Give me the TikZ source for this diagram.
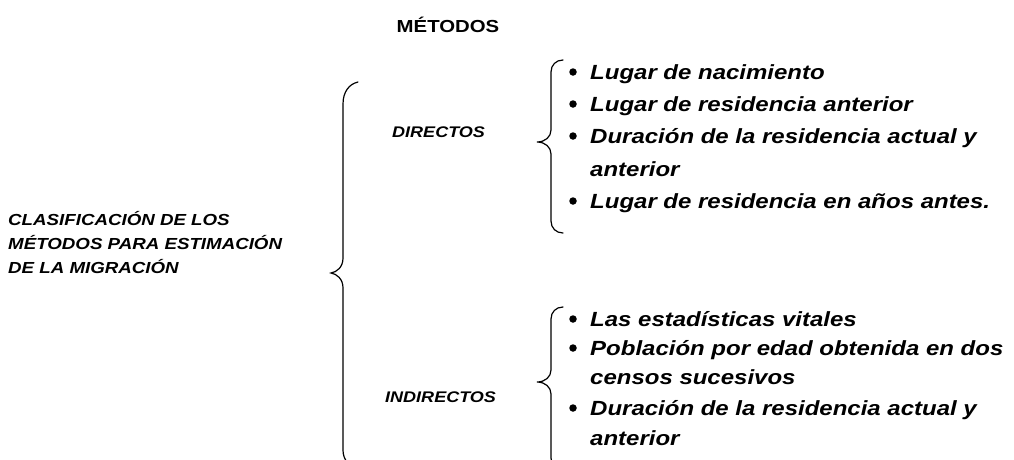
\documentclass[tikz,border=0pt]{standalone}
\usepackage{fontspec}
\setmainfont[FakeStretch=1.17]{Liberation Sans}
\begin{document}
\begin{tikzpicture}[x=1pt,y=-1pt,
  brace/.style={line width=1.2pt, line cap=round},
  title/.style={inner sep=0, anchor=base, font=\bfseries\fontsize{17.4}{17.4}\selectfont},
  lefttxt/.style={inner sep=0, anchor=base west, font=\bfseries\itshape\fontsize{16}{16}\selectfont},
  cat/.style={inner sep=0, anchor=base west, font=\bfseries\itshape\fontsize{15.4}{15.4}\selectfont},
  itemtxt/.style={inner sep=0, anchor=base west, font=\bfseries\itshape\fontsize{20.5}{20.5}\selectfont},
  bul/.style={circle, fill=black, inner sep=0, minimum size=7.5pt}]
\useasboundingbox (0,0) rectangle (1014,459);

\node[title] (metodos) at (448,32) {MÉTODOS};

\node[lefttxt] (c1) at (8,225) {CLASIFICACIÓN DE LOS};
\node[lefttxt] (c2) at (8,249) {MÉTODOS PARA ESTIMACIÓN};
\node[lefttxt] (c3) at (8,273) {DE LA MIGRACIÓN};

% big brace
\draw[brace] (358,82) .. controls (349,84) and (343,92) .. (343,104) -- (343,258)
  .. controls (343,267) and (337,272) .. (331,273)
  .. controls (337,274) and (343,279) .. (343,288) -- (343,450)
  .. controls (343,460) and (349,466) .. (358,468);

\node[cat] (dir) at (392,137) {DIRECTOS};
\node[cat] (ind) at (385,402) {INDIRECTOS};

% upper brace
\draw[brace] (563,60) .. controls (556,60) and (551,65) .. (551,72) -- (551,130)
  .. controls (551,137) and (545,142) .. (537,142)
  .. controls (545,142) and (551,147) .. (551,154) -- (551,221)
  .. controls (551,228) and (556,233) .. (563,233);

% lower brace
\draw[brace] (563,307) .. controls (556,307) and (551,312) .. (551,319) -- (551,370)
  .. controls (551,377) and (545,382) .. (537,382)
  .. controls (545,382) and (551,387) .. (551,394) -- (551,458)
  .. controls (551,465) and (556,470) .. (563,470);

% upper items
\node[bul] (b1) at (573,72) {};
\node[itemtxt] (d1) at (590,79) {Lugar de nacimiento};
\node[bul] (b2) at (573,104) {};
\node[itemtxt] (d2) at (590,111) {Lugar de residencia anterior};
\node[bul] (b3) at (573,136) {};
\node[itemtxt] (d3) at (590,143) {Duración de la residencia actual y};
\node[itemtxt] (d3b) at (590,176) {anterior};
\node[bul] (b4) at (573,201) {};
\node[itemtxt] (d4) at (590,208) {Lugar de residencia en años antes.};

% lower items
\node[bul] (b5) at (573,319) {};
\node[itemtxt] (i1) at (590,326) {Las estadísticas vitales};
\node[bul] (b6) at (573,348) {};
\node[itemtxt] (i2) at (590,355) {Población por edad obtenida en dos};
\node[itemtxt] (i2b) at (590,384) {censos sucesivos};
\node[bul] (b7) at (573,408) {};
\node[itemtxt] (i3) at (590,415) {Duración de la residencia actual y};
\node[itemtxt] (i3b) at (590,445) {anterior};
\end{tikzpicture}
\end{document}
